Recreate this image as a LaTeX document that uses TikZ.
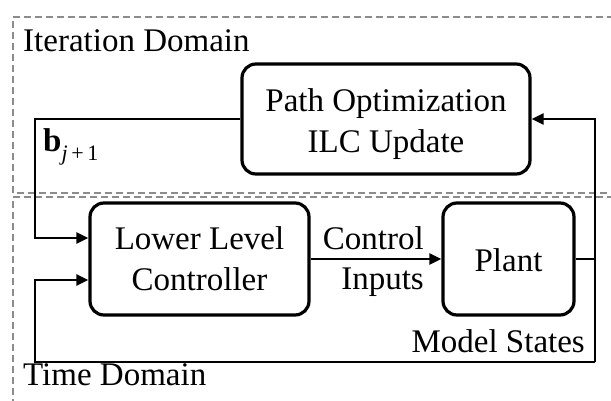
\documentclass[tikz,border=0pt]{standalone}
\usepackage{fontspec}
\setmainfont{Liberation Serif}
\usetikzlibrary{arrows.meta}
\definecolor{dashgray}{RGB}{140,140,140}
\tikzset{
  blk/.style={draw=black, line width=3.2pt, rounded corners=14pt, inner sep=0pt},
  conn/.style={draw=black, line width=2.6pt},
  arr/.style={conn, -{Triangle[length=12pt,width=11pt]}},
  dombox/.style={draw=dashgray, line width=2.6pt, dash pattern=on 7pt off 4pt},
  lbl/.style={font=\fontsize{33}{41}\selectfont, inner sep=0pt},
}
\begin{document}
\begin{tikzpicture}[x=1pt,y=-1pt]
\useasboundingbox[fill=white] (0,0) rectangle (611,401);
\clip (0,0) rectangle (611,401);
% domains
\draw[dombox] (625,17) -- (13,17) -- (13,193) -- (625,193);
\draw[dombox] (625,197) -- (13,197) -- (13,410);
\node[lbl, anchor=base west] (itd) at (23,52) {Iteration Domain};
\node[lbl, anchor=base west] (tmd) at (23,385) {Time Domain};
% blocks
\node[blk, minimum width=288pt, minimum height=110pt] (po) at (386,119) {};
\node[lbl, anchor=base] (po1) at (386,112) {Path Optimization};
\node[lbl, anchor=base] (po2) at (386,153) {ILC Update};
\node[blk, minimum width=219pt, minimum height=112pt] (llc) at (199.5,259) {};
\node[lbl, anchor=base] (llc1) at (199.5,250) {Lower Level};
\node[lbl, anchor=base] (llc2) at (199.5,290) {Controller};
\node[blk, minimum width=131pt, minimum height=112pt] (plant) at (508.5,259) {};
\node[lbl, anchor=base] (plant1) at (508.5,271) {Plant};
% labels
\node[lbl, anchor=base east] (ci1) at (424,250) {Control};
\node[lbl, anchor=base east] (ci2) at (424,289) {Inputs};
\node[lbl, anchor=base east] (ms) at (585,352) {Model States};
\node[lbl, anchor=base west] (bj) at (43,152) {\textbf{b}\raisebox{-9pt}{\fontsize{22}{22}\selectfont\itshape j\upshape\,+\,1}};
% connectors
\coordinate (tl) at (35,119);
\coordinate (br) at (595,362);
\coordinate (bl) at (35,362);
\draw[arr] (po.west) -- (tl) |- ([yshift=21pt]llc.west);
\draw[arr] (llc) -- (plant);
\draw[conn] (plant.east) -- (plant.east -| br);
\draw[arr] (br) |- (po.east);
\draw[arr] (br) -- (bl) |- ([yshift=-21pt]llc.west);
\end{tikzpicture}
\end{document}
